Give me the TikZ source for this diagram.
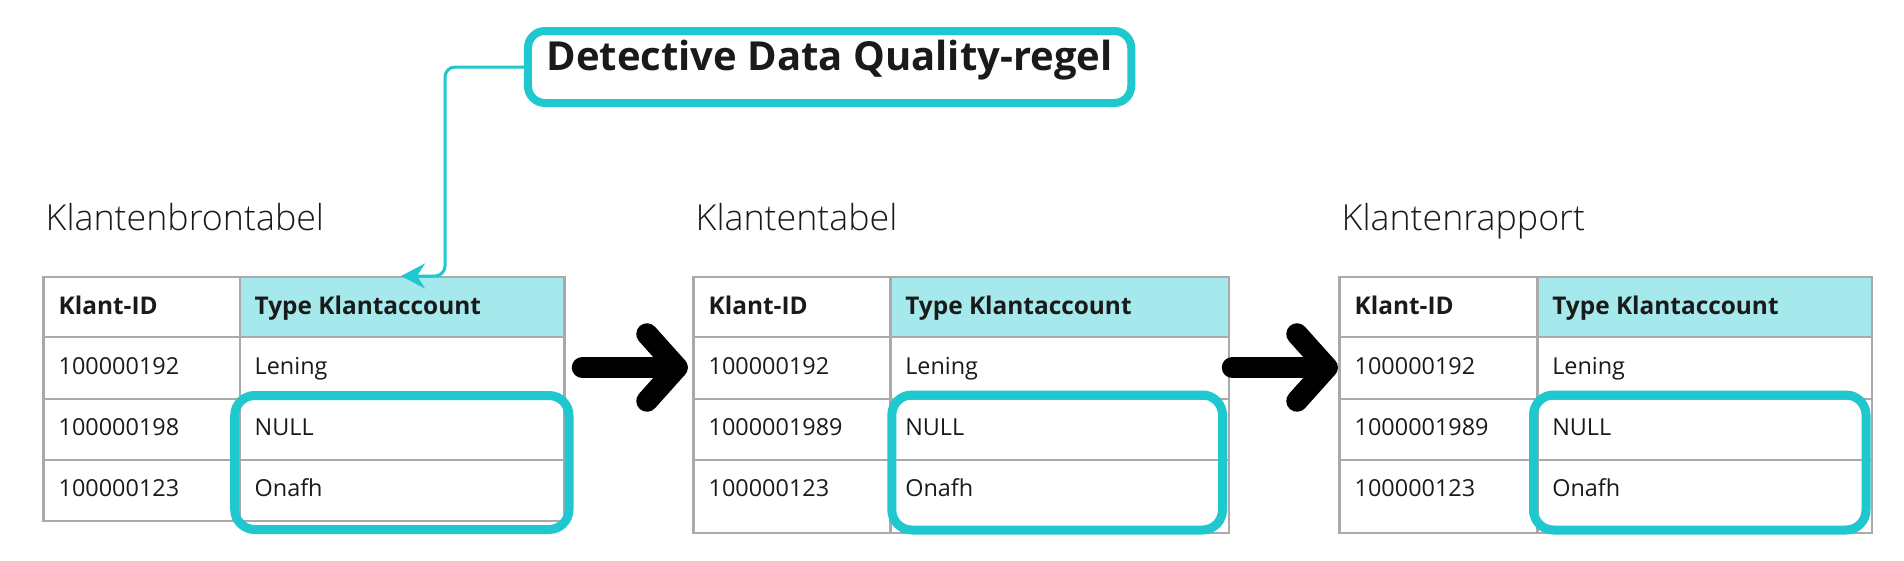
\documentclass[tikz,border=0pt]{standalone}
\usepackage{fontspec}
\setmainfont{Open Sans}
\newfontfamily\dqlight{Open Sans Light}
\usetikzlibrary{arrows.meta,calc}
\definecolor{dqcyan}{RGB}{30,200,206}
\definecolor{hdrfill}{RGB}{165,233,236}
\definecolor{gridgray}{RGB}{170,170,170}
\definecolor{txt}{RGB}{26,26,26}
\tikzset{
  gridline/.style={draw=gridgray, line width=2.5pt},
  tableframe/.style={gridline, rectangle, inner sep=0pt, outer sep=0pt, anchor=north west},
  hlbox/.style={draw=dqcyan, line width=9pt, rounded corners=20pt, inner sep=0pt, outer sep=0pt, rectangle},
  titlebox/.style={draw=dqcyan, line width=8pt, rounded corners=17pt, fill=white, inner sep=0pt, outer sep=0pt,
    font=\fontsize{40}{48}\selectfont\bfseries, text=txt, text height=30pt, text depth=24pt},
  celltext/.style={anchor=base west, inner sep=0pt, text=txt, font=\fontsize{23.4}{28}\selectfont},
  hdrtext/.style={anchor=base west, inner sep=0pt, text=txt, font=\fontsize{24.4}{29}\selectfont\bfseries},
  tabletitle/.style={anchor=base west, inner sep=0pt, text=txt, font=\fontsize{35.8}{42}\selectfont\dqlight},
  flowarrow/.style={draw=black, line width=21.5pt, line cap=round, line join=round},
  callout/.style={draw=dqcyan, line width=3pt, rounded corners=10pt, -{Stealth[length=24pt,width=25pt,inset=8pt]}},
}
% #1 name, #2 left, #3 divider, #4 right, #5 bottom, #6 second id, #7 title
\newcommand{\dqtable}[7]{%
  \node[tabletitle] (#1title) at (#2+2,230.7) {#7};
  \fill[hdrfill] (#3,277) rectangle (#4,337);
  \node[tableframe, minimum width={(#4-#2)*1pt}, minimum height={(#5-277)*1pt}] (#1) at (#2,277) {};
  \draw[gridline] (#3,277) -- (#3,#5);
  \foreach \yy in {337,399,460} {\draw[gridline] (#2,\yy) -- (#4,\yy);}
  \node[hdrtext] (#1h1) at (#2+15,314) {Klant-ID};
  \node[hdrtext] (#1h2) at (#3+14.5,314) {Type Klantaccount};
  \node[celltext] (#1a1) at (#2+15,374.3) {100000192};
  \node[celltext] (#1b1) at (#3+14.5,374.3) {Lening};
  \node[celltext] (#1a2) at (#2+15,435.7) {#6};
  \node[celltext] (#1b2) at (#3+14.5,435.7) {NULL};
  \node[celltext] (#1a3) at (#2+15,496.7) {100000123};
  \node[celltext] (#1b3) at (#3+14.5,496.7) {Onafh};
}
\begin{document}
\begin{tikzpicture}[x=1pt,y=-1pt]
  \fill[white] (0,0) rectangle (1904,560);
  \useasboundingbox (0,0) rectangle (1904,560);

  \dqtable{t1}{43.5}{240}{564.5}{521}{100000198}{Klantenbrontabel}
  \dqtable{t2}{693.5}{890.6}{1229}{533}{1000001989}{Klantentabel}
  \dqtable{t3}{1339.5}{1537.6}{1872}{533}{1000001989}{Klantenrapport}

  % highlight boxes
  \node[hlbox, minimum width=334.3pt, minimum height=134pt] (h1) at (401.85,462.5) {};
  \node[hlbox, minimum width=330.7pt, minimum height=135pt] (h2) at (1057.15,462.5) {};
  \node[hlbox, minimum width=332.5pt, minimum height=135pt] (h3) at (1699.75,462.5) {};

  % flow arrows
  \coordinate (a1s) at (582.5,367.5);
  \coordinate (a1e) at (677,367.5);
  \coordinate (a2s) at (1232.5,367.5);
  \coordinate (a2e) at (1327,367.5);
  \draw[flowarrow] (a1s) -- (a1e);
  \draw[flowarrow] ($(a1e)+(-30,-33.5)$) -- (a1e) -- ($(a1e)+(-30,33.5)$);
  \draw[flowarrow] (a2s) -- (a2e);
  \draw[flowarrow] ($(a2e)+(-30,-33.5)$) -- (a2e) -- ($(a2e)+(-30,33.5)$);

  % title box and callout
  \node[titlebox, minimum width=603.3pt, minimum height=72pt] (title) at (829.6,67) {Detective Data Quality-regel};
  \coordinate (ctip) at (401,276);
  \draw[callout] (title.west) -| ([xshift=44pt]ctip) -- (ctip);
\end{tikzpicture}
\end{document}
